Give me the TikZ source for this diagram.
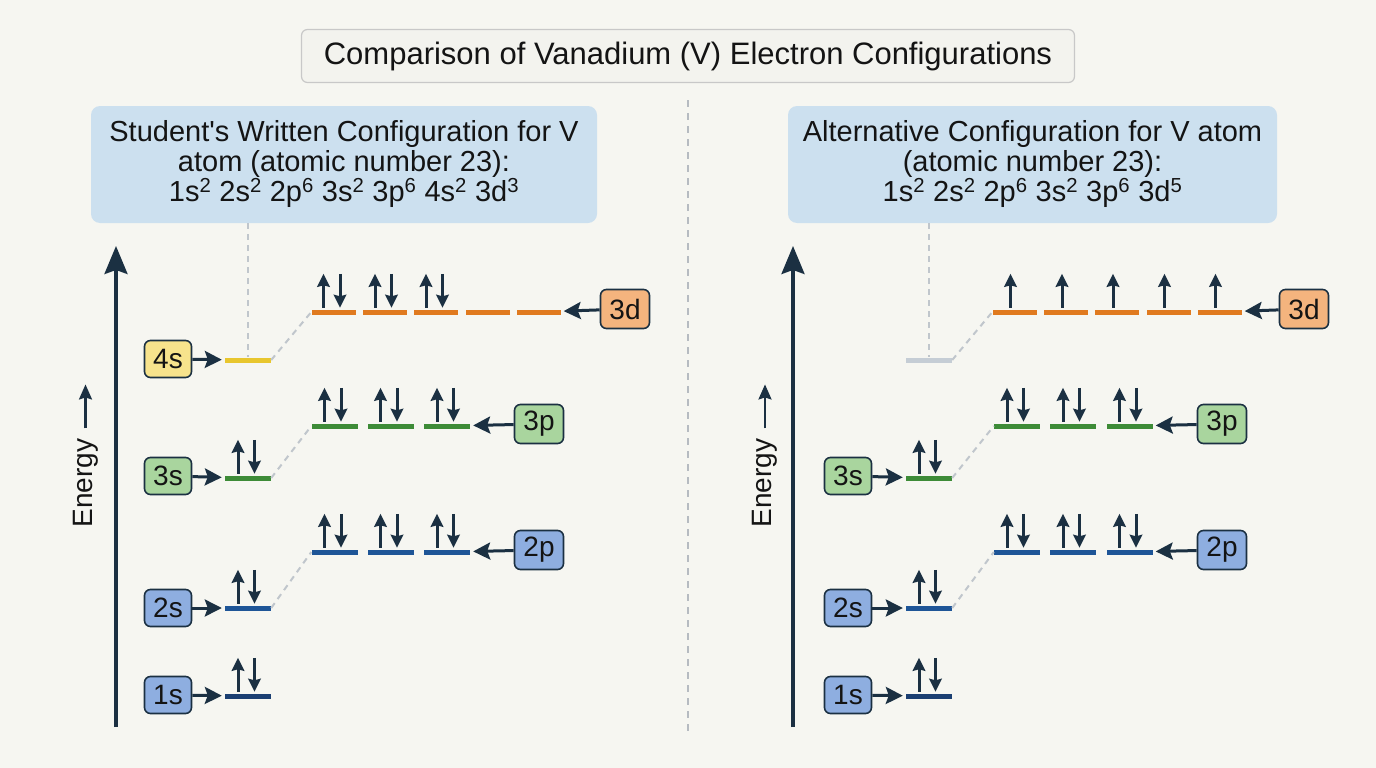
\documentclass[tikz,border=0pt]{standalone}
\usepackage{fontspec}
\setmainfont{Liberation Sans}
\usetikzlibrary{arrows.meta}
\definecolor{bg}{HTML}{F6F6F1}
\definecolor{ink}{HTML}{1B3042}
\definecolor{txt}{HTML}{141414}
\definecolor{lvOr}{HTML}{E07A1F}
\definecolor{lvYe}{HTML}{E8C62E}
\definecolor{lvGr}{HTML}{3D8B37}
\definecolor{lvBl}{HTML}{1E5597}
\definecolor{lvNv}{HTML}{1B3F72}
\definecolor{lvGy}{HTML}{C5CDD5}
\definecolor{fYe}{HTML}{F7E38C}
\definecolor{fOr}{HTML}{F4B47E}
\definecolor{fGr}{HTML}{A9D59E}
\definecolor{fBl}{HTML}{8EAEE0}
\definecolor{hdr}{HTML}{CCE0EF}
\definecolor{ttl}{HTML}{F3F3EE}
\definecolor{ttlb}{HTML}{C8C8C8}
\definecolor{gdash}{HTML}{C0C6CC}
\newcommand\epair[1]{%
  \draw[elec] ([xshift=-10pt,yshift=1.5pt]#1.north) -- ++(0,-34);
  \draw[elec] ([xshift=6.5pt,yshift=35.5pt]#1.north) -- ++(0,34);}
\newcommand\eone[1]{%
  \draw[elec] ([xshift=-4pt,yshift=1.5pt]#1.north) -- ++(0,-34);}
\tikzset{
  lev/.style={rectangle, inner sep=0pt, minimum width=46pt, minimum height=5pt},
  dlev/.style={lev, minimum width=44pt, fill=lvOr},
  lbl/.style={draw=ink, line width=1.6pt, rounded corners=6pt, minimum width=47pt,
    minimum height=37pt, inner sep=0pt, text=txt, font=\fontsize{28}{28}\selectfont},
  lblw/.style={lbl, minimum width=49pt, minimum height=39pt},
  larr/.style={draw=ink, line width=3pt, -{Stealth[length=17pt,width=17pt,inset=3pt]}, shorten >=3pt},
  elec/.style={draw=ink, line width=3pt, -{Stealth[length=13pt,width=12.5pt,inset=1.5pt]}},
  axis/.style={draw=ink, line width=3.2pt, -{Stealth[length=28pt,width=23pt,inset=4pt]}},
  gd/.style={draw=gdash, line width=2pt, dash pattern=on 6pt off 5pt},
  hdrbox/.style={fill=hdr, rounded corners=9pt, minimum height=117pt, align=center,
    text=txt, font=\fontsize{29}{30}\selectfont, inner sep=0pt},
}
\begin{document}
\begin{tikzpicture}[x=1pt,y=-1pt]
\useasboundingbox[fill=bg] (0,0) rectangle (1376,768);

% title
\node[draw=ttlb, line width=1.2pt, fill=ttl, rounded corners=6pt, minimum width=773pt,
  minimum height=53pt, text=txt, font=\fontsize{31}{31}\selectfont] (title) at (688,56)
  {Comparison of Vanadium (V) Electron Configurations};

% divider
\coordinate (dvT) at (688,100);
\coordinate (dvB) at (688,732);
\draw[draw=gdash!85!gray, line width=1.5pt, dash pattern=on 7pt off 6pt] (dvT) -- (dvB);

% headers
\node[hdrbox, minimum width=506pt] (hdrL) at (344,164.5)
  {Student\textquotesingle s Written Configuration for V\\atom (atomic number 23):\\
   1s\textsuperscript{2} 2s\textsuperscript{2} 2p\textsuperscript{6} 3s\textsuperscript{2} 3p\textsuperscript{6} 4s\textsuperscript{2} 3d\textsuperscript{3}};
\node[hdrbox, minimum width=489pt] (hdrR) at (1032.5,164.5)
  {Alternative Configuration for V atom\\(atomic number 23):\\
   1s\textsuperscript{2} 2s\textsuperscript{2} 2p\textsuperscript{6} 3s\textsuperscript{2} 3p\textsuperscript{6} 3d\textsuperscript{5}};

% ================= LEFT =================
\coordinate (axL0) at (116,727);
\coordinate (axL1) at (116,246);
\draw[axis] (axL0) -- (axL1);
\node[rotate=90, inner sep=0pt, text=txt, font=\fontsize{28}{28}\selectfont] (enL) at (85.5,483) {Energy};
\draw[draw=ink, line width=2.2pt, -{Stealth[length=15pt,width=13pt,inset=2pt]}, shorten <=10pt] (enL.east) -- ++(0,-54);

\node[lev, fill=lvNv] (L1s) at (248,696) {};
\node[lev, fill=lvBl] (L2s) at (248,608) {};
\node[lev, fill=lvGr] (L3s) at (248,478) {};
\node[lev, fill=lvYe] (L4s) at (248,360) {};
\node[lev, fill=lvBl] (L2p1) at (334.5,552) {};
\node[lev, fill=lvBl] (L2p2) at (390.5,552) {};
\node[lev, fill=lvBl] (L2p3) at (447,552) {};
\node[lev, fill=lvGr] (L3p1) at (334.5,426) {};
\node[lev, fill=lvGr] (L3p2) at (390.5,426) {};
\node[lev, fill=lvGr] (L3p3) at (447,426) {};
\node[dlev] (L3d1) at (333.5,312) {};
\node[dlev] (L3d2) at (385,312) {};
\node[dlev] (L3d3) at (436,312) {};
\node[dlev] (L3d4) at (487.5,312) {};
\node[dlev] (L3d5) at (538.5,312) {};

\node[lbl, fill=fBl] (b1s) at (168,695) {1s};
\node[lbl, fill=fBl] (b2s) at (168,608) {2s};
\node[lbl, fill=fGr] (b3s) at (168,476) {3s};
\node[lbl, fill=fYe] (b4s) at (168,359) {4s};
\node[lblw, fill=fBl] (b2p) at (539,550) {2p};
\node[lblw, fill=fGr] (b3p) at (539,424) {3p};
\node[lblw, fill=fOr] (b3d) at (625,309) {3d};

\draw[larr] (b1s) -- (L1s);
\draw[larr] (b2s) -- (L2s);
\draw[larr] (b3s) -- (L3s);
\draw[larr] (b4s) -- (L4s);
\draw[larr] (b2p) -- (L2p3);
\draw[larr] (b3p) -- (L3p3);
\draw[larr] (b3d) -- (L3d5);

\draw[gd] (L2s.east) -- (L2p1.west);
\draw[gd] (L3s.east) -- (L3p1.west);
\draw[gd] (L4s.east) -- (L3d1.west);
\draw[gd] (hdrL.south -| L4s.center) -- (L4s.north);

\epair{L1s}\epair{L2s}\epair{L3s}
\epair{L2p1}\epair{L2p2}\epair{L2p3}
\epair{L3p1}\epair{L3p2}\epair{L3p3}
\epair{L3d1}\epair{L3d2}\epair{L3d3}

% ================= RIGHT =================
\begin{scope}[xshift=681pt]
\coordinate (axR0) at (112,727);
\coordinate (axR1) at (112,246);
\draw[axis] (axR0) -- (axR1);
\node[rotate=90, inner sep=0pt, text=txt, font=\fontsize{28}{28}\selectfont] (enR) at (84,483) {Energy};
\draw[draw=ink, line width=2.2pt, -{Stealth[length=15pt,width=13pt,inset=2pt]}, shorten <=10pt] (enR.east) -- ++(0,-54);

\node[lev, fill=lvNv] (R1s) at (248,696) {};
\node[lev, fill=lvBl] (R2s) at (248,608) {};
\node[lev, fill=lvGr] (R3s) at (248,478) {};
\node[lev, fill=lvGy] (R4s) at (248,360) {};
\node[lev, fill=lvBl] (R2p1) at (336,552) {};
\node[lev, fill=lvBl] (R2p2) at (392,552) {};
\node[lev, fill=lvBl] (R2p3) at (448.5,552) {};
\node[lev, fill=lvGr] (R3p1) at (336,426) {};
\node[lev, fill=lvGr] (R3p2) at (392,426) {};
\node[lev, fill=lvGr] (R3p3) at (448.5,426) {};
\node[dlev] (R3d1) at (333.5,312) {};
\node[dlev] (R3d2) at (385,312) {};
\node[dlev] (R3d3) at (436,312) {};
\node[dlev] (R3d4) at (487.5,312) {};
\node[dlev] (R3d5) at (538.5,312) {};

\node[lbl, fill=fBl] (c1s) at (167,695) {1s};
\node[lbl, fill=fBl] (c2s) at (167,608) {2s};
\node[lbl, fill=fGr] (c3s) at (167,476) {3s};
\node[lblw, fill=fBl] (c2p) at (541,550) {2p};
\node[lblw, fill=fGr] (c3p) at (541,424) {3p};
\node[lblw, fill=fOr] (c3d) at (623,309) {3d};

\draw[larr] (c1s) -- (R1s);
\draw[larr] (c2s) -- (R2s);
\draw[larr] (c3s) -- (R3s);
\draw[larr] (c2p) -- (R2p3);
\draw[larr] (c3p) -- (R3p3);
\draw[larr] (c3d) -- (R3d5);

\draw[gd] (R2s.east) -- (R2p1.west);
\draw[gd] (R3s.east) -- (R3p1.west);
\draw[gd] (R4s.east) -- (R3d1.west);
\draw[gd] (hdrR.south -| R4s.center) -- (R4s.north);

\epair{R1s}\epair{R2s}\epair{R3s}
\epair{R2p1}\epair{R2p2}\epair{R2p3}
\epair{R3p1}\epair{R3p2}\epair{R3p3}
\eone{R3d1}\eone{R3d2}\eone{R3d3}\eone{R3d4}\eone{R3d5}
\end{scope}
\end{tikzpicture}
\end{document}
